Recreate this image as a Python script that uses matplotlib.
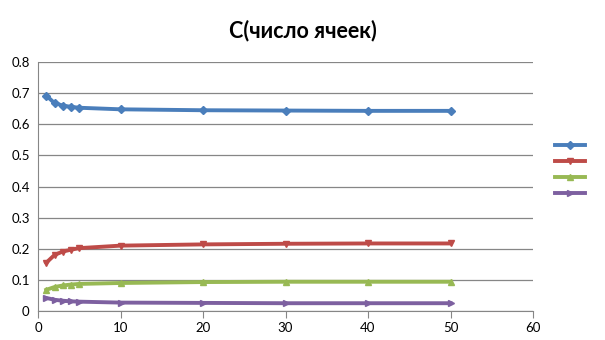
import matplotlib
matplotlib.use("Agg")
import matplotlib.pyplot as plt

# cell counts on the x axis
cells = [1, 2, 3, 4, 5, 10, 20, 30, 40, 50]

# four series
series_1 = [0.692, 0.668, 0.660, 0.656, 0.653, 0.648, 0.645, 0.644, 0.643, 0.643]
series_2 = [0.155, 0.180, 0.191, 0.197, 0.202, 0.210, 0.214, 0.216, 0.217, 0.217]
series_3 = [0.068, 0.077, 0.082, 0.085, 0.087, 0.090, 0.093, 0.094, 0.094, 0.094]
series_4 = [0.042, 0.036, 0.033, 0.031, 0.030, 0.027, 0.026, 0.025, 0.025, 0.025]

plt.rcParams["font.family"] = ["Lato", "DejaVu Sans"]

fig = plt.figure(figsize=(6.05, 3.4), dpi=100)
ax = fig.add_axes([38 / 605, 1 - 311 / 340, (533 - 38) / 605, (311 - 62) / 340])

styles = [
    (series_1, "#4A7EBB", "D"),
    (series_2, "#BE4B48", "v"),
    (series_3, "#98B954", "^"),
    (series_4, "#7D60A0", ">"),
]
handles = []
for vals, col, mk in styles:
    h, = ax.plot(cells, vals, color=col, lw=2.8, marker=mk, ms=4.5,
                 markeredgecolor=col, markerfacecolor=col)
    handles.append(h)

ax.set_xlim(0, 60)
ax.set_ylim(0, 0.8)
ax.set_xticks(range(0, 61, 10))
ax.set_yticks([i / 10 for i in range(9)])
ax.set_yticklabels(["0"] + [f"{i / 10:.1f}" for i in range(1, 9)])
ax.grid(axis="y", color="#868686", lw=0.9)
ax.set_axisbelow(True)
for s in ("top", "right"):
    ax.spines[s].set_visible(False)
for s in ("left", "bottom"):
    ax.spines[s].set_color("#868686")
ax.tick_params(axis="x", direction="out", length=5, color="#868686", labelsize=9.5, pad=3)
ax.tick_params(axis="y", direction="out", length=0, labelsize=9.5, pad=6)

fig.suptitle("C(число ячеек)", y=1 - 31 / 340, va="center", fontsize=15.5, fontweight="bold")

fig.legend(handles, ["", "", "", ""], loc="center", bbox_to_anchor=(570 / 605, 1 - 170 / 340),
           frameon=False, handlelength=2.1, labelspacing=0.3, handletextpad=0, borderpad=0)

fig.savefig("out.png", dpi=100)
